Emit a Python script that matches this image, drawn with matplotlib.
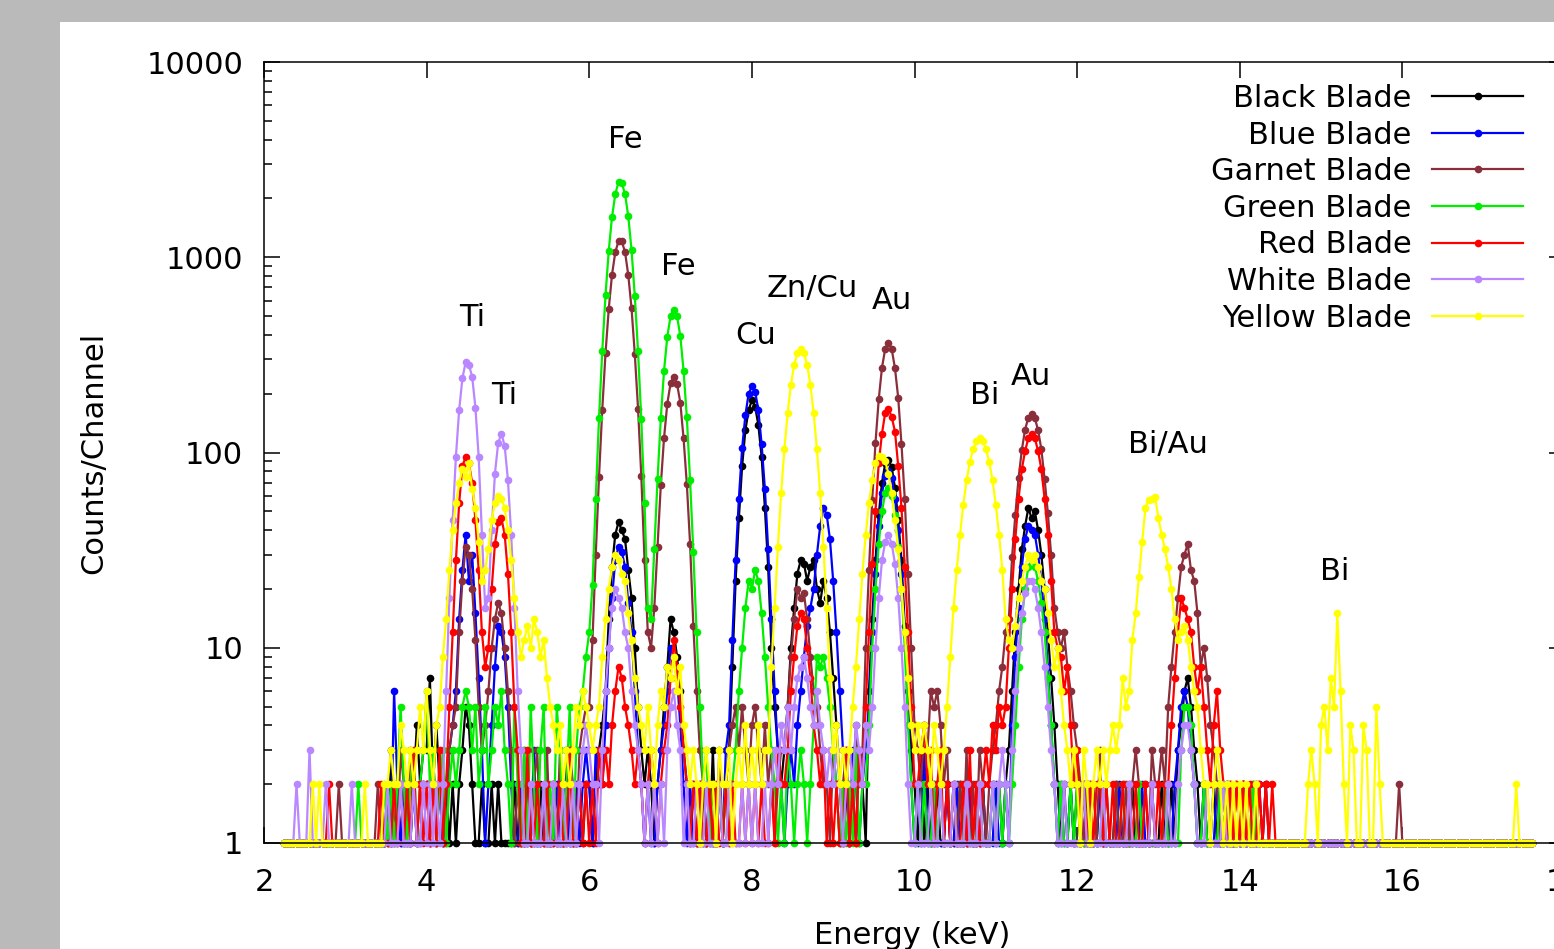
import numpy as np
import matplotlib
matplotlib.use("Agg")
import matplotlib.pyplot as plt
from matplotlib.patches import Rectangle
from matplotlib.ticker import NullLocator, LogLocator

plt.rcParams['font.family'] = ['DejaVu Sans']
plt.rcParams['font.size'] = 22

# Spectrum channels: 2.00 keV + 0.04 keV * index (400 channels)
E0 = 2.0
STEP = 0.04

series_names = ["Black Blade", "Blue Blade", "Garnet Blade", "Green Blade",
                "Red Blade", "White Blade", "Yellow Blade"]
series_colors = ["#000000", "#0000ff", "#8b2e3b", "#00ee00",
                 "#ff0000", "#b987ff", "#ffff00"]

# low counts, one digit per channel, one row per keV (2.00-2.96, 3.00-3.96, ...)
# "0" = no data. Peak lists (start keV -> counts) replace the digits.
black_rows = [
    "0000001111111111111111111",
    "1111111111111131211212423",
    "3724212121235421121121211",
    "1121112111211121112111212",
    "2123411111111111123212111",
    "1111111211211312121111111",
    "1111111112111111111111111",
    "1111212132111111111111111",
    "2131211211211121121112112",
    "1212311111111111111112121",
    "2112111211112111121111121",
    "1211213467532121121112111",
    "1211121111111111111111111",
    "1111111111111111111111111",
    "1111111111111111111111111",
    "1111111111111111000000000",
]
black_peaks = {
    6.20: [6, 14, 26, 38, 44, 40, 36, 25, 18, 10, 5, 3],
    6.88: [3, 5, 8, 14, 12, 9, 6, 3, 2],
    7.72: [3, 8, 22, 46, 85, 130, 165, 185, 172, 138, 95, 52, 26, 10, 5, 3],
    8.40: [3, 5, 10, 16, 24, 28, 27, 22, 26, 28, 20, 17, 22, 18, 12, 7, 4, 2],
    9.44: [6, 14, 28, 48, 70, 88, 92, 84, 66, 45, 28, 13, 6, 3],
    11.20: [6, 12, 20, 32, 42, 52, 46, 50, 40, 30, 20, 12, 7, 4, 2],
}

blue_rows = [
    "0000001111111111111111111",
    "1111111111111216212112112",
    "2131212341111111111111111",
    "1211211131121112113112123",
    "2132211111111111212112311",
    "1111112112112112131111111",
    "1111111112123211111111111",
    "1111213212311111111111111",
    "1213112111211211121112111",
    "2112111111111111111121121",
    "1121111211111211111121111",
    "1121123565321121112112111",
    "1211112121111111111111111",
    "1111111111111111111111111",
    "1111111111111111111111111",
    "1111111111111111000000000",
]
blue_peaks = {
    4.36: [6, 14, 25, 38, 22, 30, 15, 7, 3, 1, 2, 4, 8, 13, 12, 9, 5],
    6.20: [4, 10, 18, 28, 33, 31, 26, 17, 12, 6, 3],
    6.92: [4, 6, 10, 9, 7, 4, 2],
    7.72: [4, 11, 28, 58, 105, 155, 200, 218, 205, 165, 110, 65, 32, 14, 6, 3],
    8.56: [4, 6, 9, 13, 16, 20, 30, 42, 52, 48, 36, 22, 12, 6, 3],
    9.44: [5, 12, 24, 42, 62, 76, 80, 74, 58, 40, 24, 12, 5, 2],
    11.20: [4, 9, 16, 26, 36, 42, 40, 38, 30, 22, 14, 8, 4, 2],
}

garnet_rows = [
    "0000001111111111111111121",
    "1111111111211212132132122",
    "2131221341111111111111111",
    "1112131123113121311321345",
    "1111111111111111111111111",
    "1111111111112113123453532",
    "4532423123111111111111121",
    "3212312421111111111111111",
    "1324365642312121312132123",
    "4611111111111111111111111",
    "3212121312112112123212132",
    "2321111111111111112121212",
    "1211211121111111111111111",
    "1111111111111111111111112",
    "1111111111111111111111111",
    "1111111111111111000000000",
]
garnet_peaks = {
    4.36: [5, 12, 22, 33, 30, 20, 11, 5, 3, 4, 6, 10, 14, 17, 15, 10, 6, 3],
    6.00: [5, 11, 30, 75, 166, 322, 545, 815, 1060, 1210, 1205, 1065, 810, 548,
           320, 168, 76, 28, 12, 10, 16, 33, 68, 119, 178, 226, 245, 224, 180,
           118, 69, 34, 13, 6, 3, 2],
    8.40: [3, 5, 9, 14, 20, 18, 19, 14, 9, 6, 5, 3, 2],
    9.36: [3, 10, 25, 57, 112, 187, 272, 340, 365, 338, 270, 190, 110, 58, 24, 10, 4],
    11.08: [8, 12, 14, 29, 48, 74, 103, 131, 151, 158, 150, 130, 104, 73, 49, 30,
            16, 12, 10, 12, 8, 6, 4],
    13.12: [5, 8, 12, 18, 26, 30, 34, 25, 22, 15, 8, 10, 7, 4, 3],
}

green_rows = [
    "0000001111111111111111111",
    "1111211111112121252123123",
    "6231231232356535235235463",
    "2152131521351215312513549",
    "1111111111111111111111111",
    "1111111111131212121211111",
    "1111111212132123212498975",
    "3212121312211111111111111",
    "1212112121112111211121112",
    "1212121111111111111121121",
    "2111211121111121111211111",
    "1121111355421121111211111",
    "1111211111111111111111111",
    "1111111111111111111111111",
    "1111111111111111111111111",
    "1111111111111111000000000",
]
green_peaks = {
    5.88: [5, 6, 9, 12, 21, 58, 150, 330, 640, 1080, 1610, 2100, 2430, 2400, 2110,
           1620, 1090, 635, 330, 148, 55, 16, 14, 32, 73, 150, 263, 392, 500, 540,
           498, 395, 262, 152, 72, 31, 12, 5, 2],
    7.80: [3, 6, 10, 16, 22, 20, 25, 22, 15, 9, 5, 3],
    9.44: [4, 10, 20, 34, 50, 62, 66, 60, 48, 33, 20, 10, 4, 2],
    11.24: [4, 8, 14, 20, 26, 28, 26, 22, 17, 12, 7, 4, 2],
}

red_rows = [
    "0000001111111111111121111",
    "1111111111121112121213121",
    "2121312511111111111111111",
    "1111113112112111211311212",
    "1213232468754323212321234",
    "7185321212112121121211212",
    "1212112132236911117432312",
    "1211312132111111111111111",
    "1234231231212112131212324",
    "3541111111111111111111112",
    "3121212212121121212112121",
    "2122471111186853246321212",
    "1212112121211111111111111",
    "1111111111111111111111111",
    "1111111111111111111111111",
    "1111111111111111000000000",
]
red_peaks = {
    4.32: [12, 28, 55, 85, 95, 88, 70, 45, 25, 12, 8, 10, 20, 34, 44, 46, 38, 24, 12, 5, 3],
    7.04: [11],
    8.56: [13, 15, 14, 10],
    9.40: [5, 12, 27, 50, 88, 125, 160, 168, 152, 128, 85, 52, 26, 12, 5, 2],
    11.12: [5, 10, 20, 36, 58, 82, 102, 118, 125, 118, 102, 82, 58, 38, 22, 12,
            10, 9, 6, 8, 4],
    13.24: [12, 18, 16, 14, 12],
}

white_rows = [
    "0000001111211131111211111",
    "1121111111111211121112112",
    "1212121111111111111111111",
    "1111211211121121121121234",
    "3221111111111111212121213",
    "5643121121121112112111212",
    "1211212324353578975464323",
    "2321232432431111111111111",
    "1211121121112111211121112",
    "1232111111111111111112111",
    "1121111121111111211111121",
    "1112112344321112111121111",
    "1111111111111111111111111",
    "1111111111111111111111111",
    "1111111111111111111111111",
    "1111111111111111000000000",
]
white_peaks = {
    4.24: [6, 18, 45, 95, 165, 240, 290, 280, 245, 170, 95, 38, 16, 18, 40, 78,
           112, 125, 108, 72, 38, 16, 6, 3],
    6.16: [3, 6, 10, 16, 20, 18, 16, 12, 10, 6, 4, 3],
    9.48: [5, 10, 18, 28, 35, 38, 34, 27, 18, 10, 5, 2],
    11.20: [3, 6, 10, 15, 19, 22, 22, 20, 16, 12, 8, 5, 3, 2],
}

yellow_rows = [
    "0000001111111112121111111",
    "1111112111112232243232353",
    "6324111111111111111111111",
    "1111111111111113423235465",
    "4341111111111111135324658",
    "7968432321232213223123242",
    "3242331111111111111111111",
    "3423211111111111111111111",
    "1434324323111111111111111",
    "1111111111111111111111323",
    "2132123211111111111111111",
    "1111111111111112123212121",
    "2121121111111111111112321",
    "4537516214311431152111111",
    "1111111111111111111111111",
    "1111111111211111000000000",
]
yellow_peaks = {
    4.16: [5, 9, 14, 25, 40, 55, 70, 82, 75, 88, 65, 52, 35, 22, 25, 32, 45, 55,
           60, 58, 52, 40, 28, 18, 12, 9, 11, 13, 10, 14, 12, 9, 11, 7, 5, 4],
    6.12: [5, 9, 14, 20, 26, 30, 28, 24, 22, 15, 11, 7, 5, 4],
    8.24: [8, 16, 33, 62, 104, 159, 222, 281, 324, 340, 324, 281, 222, 159, 104,
           62, 33, 16, 7],
    9.20: [3, 5, 8, 14, 24, 38, 55, 72, 88, 96, 95, 90, 78, 62, 45, 32, 20, 12, 7, 4, 3],
    10.40: [5, 9, 16, 25, 38, 54, 72, 89, 104, 114, 118, 114, 104, 89, 72, 54, 38,
            25, 14, 11, 10],
    11.24: [13, 18, 22, 26, 30, 28, 30, 26, 22, 20, 15, 11, 8, 10, 6, 4],
    12.32: [3, 2, 3, 4, 3, 4, 7, 5, 6, 11, 15, 23, 35, 52, 57, 58, 59, 46, 38, 32,
            26, 20, 14, 11, 12, 13, 11, 8, 6, 5, 3, 2],
    15.20: [15],
}

# element labels over the peaks
peak_labels = ["Ti", "Ti", "Fe", "Fe", "Cu", "Zn/Cu", "Au", "Bi", "Au", "Bi/Au", "Bi"]
peak_label_x = [4.56, 4.96, 6.44, 7.09, 8.04, 8.74, 9.72, 10.86, 11.43, 13.12, 15.17]
peak_label_y = [492, 196, 4030, 899, 398, 693, 602, 196, 245, 110, 24.5]

x_ticks = [2, 4, 6, 8, 10, 12, 14, 16, 18]
y_ticks = [1, 10, 100, 1000, 10000]
y_tick_labels = ["1", "10", "100", "1000", "10000"]


def build(rows, peaks):
    text = ""
    for r in rows:
        if len(r) != 25:
            print("row length", len(r), r)
        text += r[:25].ljust(25, "1")
    counts = np.array([int(c) for c in text], dtype=float)
    for start, vals in peaks.items():
        i = int(round((start - E0) / STEP))
        counts[i:i + len(vals)] = vals
    counts[counts == 0] = np.nan
    return counts


all_rows = [black_rows, blue_rows, garnet_rows, green_rows, red_rows, white_rows, yellow_rows]
all_peaks = [black_peaks, blue_peaks, garnet_peaks, green_peaks, red_peaks, white_peaks, yellow_peaks]

fig = plt.figure(figsize=(15.54, 9.49), dpi=100)
fig.patch.set_facecolor("#bababa")
fig.add_artist(Rectangle((60 / 1554, 0), 1, (949 - 22) / 949, transform=fig.transFigure,
                         facecolor="white", edgecolor="none", zorder=0))

ax = fig.add_axes([264 / 1554, (949 - 843) / 949, 1301 / 1554, 781 / 949])
ax.set_facecolor("white")

for name, color, rows, peaks in zip(series_names, series_colors, all_rows, all_peaks):
    counts = build(rows, peaks)
    energy = E0 + STEP * np.arange(len(counts))
    ax.plot(energy, counts, "-o", color=color, lw=1.6, ms=5.5, mew=0,
            label=name, clip_on=False)

for lab, x, y in zip(peak_labels, peak_label_x, peak_label_y):
    ax.text(x, y, lab, ha="center", va="center", fontsize=22)

ax.set_yscale("log")
ax.set_xlim(2, 18)
ax.set_ylim(1, 10000)
ax.set_xticks(x_ticks)
ax.set_xticklabels([str(t) for t in x_ticks])
ax.xaxis.set_minor_locator(NullLocator())
ax.set_yticks(y_ticks)
ax.set_yticklabels(y_tick_labels)
ax.yaxis.set_minor_locator(LogLocator(base=10, subs=range(2, 10)))

ax.tick_params(which="both", direction="in", top=True, right=True, width=1.1)
ax.tick_params(which="major", length=11.5)
ax.tick_params(which="minor", length=5.8)
ax.tick_params(axis="y", pad=15)
ax.tick_params(axis="x", pad=18)
for s in ax.spines.values():
    s.set_linewidth(1.1)

ax.set_xlabel("Energy (keV)")
ax.set_ylabel("Counts/Channel")
ax.xaxis.set_label_coords(0.498, -0.1)
ax.yaxis.set_label_coords(-0.12, 0.5)

ax.legend(loc="upper right", bbox_to_anchor=(0.968, 0.972), frameon=False,
          markerfirst=False, handlelength=3.0, handletextpad=0.65,
          labelspacing=0.25, borderpad=0, borderaxespad=0, fontsize=22)

fig.savefig("out.png", dpi=100, facecolor=fig.get_facecolor())
